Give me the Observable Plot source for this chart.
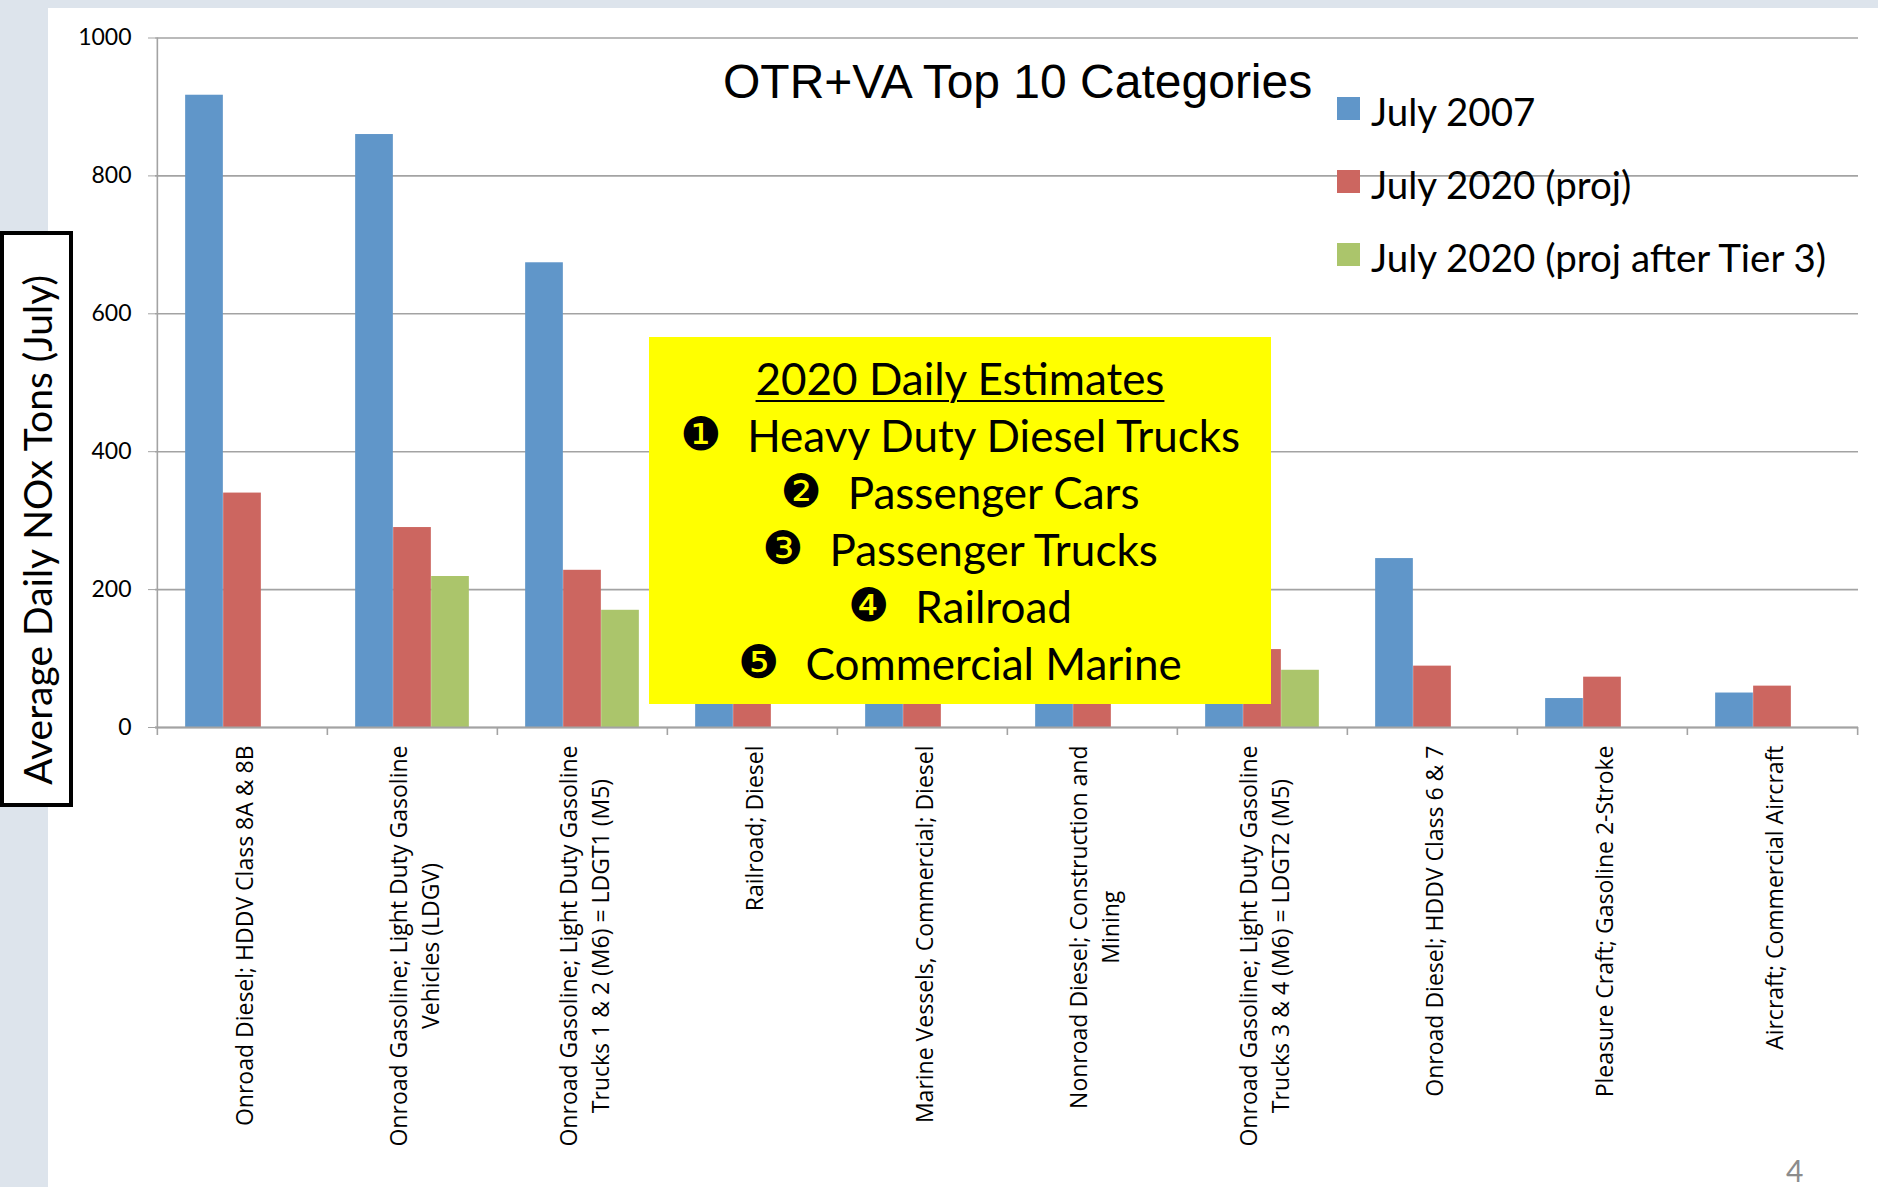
<!DOCTYPE html>
<html><head><meta charset="utf-8">
<script src="https://cdn.jsdelivr.net/npm/d3@7"></script>
<script src="https://cdn.jsdelivr.net/npm/@observablehq/plot@0.6"></script>
<style>
html,body{margin:0;padding:0;}
body{width:1878px;height:1187px;background:#dde4ec;position:relative;overflow:hidden;font-family:Lato,sans-serif;}
#white{position:absolute;left:48px;top:8px;right:0;bottom:0;background:#fff;}
#chart{position:absolute;left:0;top:0;}
#title{position:absolute;left:723px;top:58px;font-family:"Liberation Sans",Arial,sans-serif;font-size:48px;line-height:1;color:#000;white-space:nowrap;}
#legend{position:absolute;left:1337px;top:92px;}
.lg{position:relative;height:73px;font-size:38.5px;line-height:38px;white-space:nowrap;color:#000;}
.lg .sw{position:absolute;left:0;top:5px;width:23px;height:23px;}
.lg .tx{position:absolute;left:34px;top:0;}
#box{position:absolute;left:649px;top:337px;width:622px;height:367px;background:#ffff00;box-sizing:border-box;padding-top:13px;text-align:center;font-size:44px;color:#000;}
#box div{height:57px;line-height:57px;white-space:nowrap;}
#box .hd{text-decoration:underline;text-decoration-thickness:2px;text-underline-offset:5px;}
#box .b{font-family:"DejaVu Sans",sans-serif;font-size:46px;margin-right:26px;position:relative;top:-2px;}
#ylab{position:absolute;left:0;top:231px;width:73px;height:576px;box-sizing:border-box;border:4px solid #000;background:#fff;}
#ylab span{position:absolute;left:50%;top:52%;transform:translate(-50%,-50%) rotate(-90deg);white-space:nowrap;font-size:39px;font-family:Lato,sans-serif;}
#page{position:absolute;left:1786px;top:1155px;font-size:30px;color:#8c8c8c;line-height:1;}
</style></head><body>
<div id="white"></div>
<div id="chart"></div>
<div id="title"></div>
<div id="legend"></div>
<div id="box"></div>
<div id="ylab"><span></span></div>
<div id="page">4</div>
<script>
// ---- data ----
const categories = [
  "Onroad Diesel; HDDV Class 8A & 8B",
  "Onroad Gasoline; Light Duty Gasoline\nVehicles (LDGV)",
  "Onroad Gasoline; Light Duty Gasoline\nTrucks 1 & 2 (M6) = LDGT1 (M5)",
  "Railroad; Diesel",
  "Marine Vessels, Commercial; Diesel",
  "Nonroad Diesel; Construction and\nMining",
  "Onroad Gasoline; Light Duty Gasoline\nTrucks 3 & 4 (M6) = LDGT2 (M5)",
  "Onroad Diesel; HDDV Class 6 & 7",
  "Pleasure Craft; Gasoline 2-Stroke",
  "Aircraft; Commercial Aircraft"
];
const july2007 = [917, 860, 674, 330, 300, 280, 260, 245, 42, 50];
const july2020 = [340, 290, 228, 220, 190, 110, 113, 89, 73, 60];
const july2020Tier3 = [null, 219, 170, null, null, null, 83, null, null, null];
const seriesNames = ["July 2007", "July 2020 (proj)", "July 2020 (proj after Tier 3)"];
const seriesColors = ["#6096c9", "#cc6660", "#abc56b"];
const yTicks = [0, 200, 400, 600, 800, 1000];
const titleText = "OTR+VA Top 10 Categories";
const yLabel = "Average Daily NOx Tons (July)";
const boxHeading = "2020 Daily Estimates";
const bullets = ["\u2776", "\u2777", "\u2778", "\u2779", "\u277A"];
const estimates = ["Heavy Duty Diesel Trucks", "Passenger Cars", "Passenger Trucks", "Railroad", "Commercial Marine"];

// ---- table ----
const seriesValues = [july2007, july2020, july2020Tier3];
const rows = [];
categories.forEach((c, i) => seriesValues.forEach((vals, k) => {
  if (vals[i] != null) rows.push({category: c, k, series: seriesNames[k], value: vals[i]});
}));

// ---- chart ----
const W = 1878, H = 1187, ML = 155, MR = 20, MT = 37.5, MB = 460;
const bw = (W - ML - MR) / categories.length;
const barW = 38;
const side = (bw - 3 * barW) / 2;
const gray = "#a3a3a3";

const chart = Plot.plot({
  width: W, height: H,
  marginLeft: ML, marginRight: MR, marginTop: MT, marginBottom: MB,
  style: {background: "transparent", fontFamily: "Lato, sans-serif", color: "#000"},
  x: {domain: categories, padding: 0, label: null},
  y: {domain: [0, 1000], label: null},
  marks: [
    Plot.gridY(yTicks, {stroke: gray, strokeOpacity: 1, strokeWidth: 1.6}),
    ...seriesNames.map((s, k) => Plot.barY(rows.filter(d => d.k === k), {
      x: "category", y: "value", fill: seriesColors[k],
      insetLeft: side + k * barW, insetRight: bw - side - (k + 1) * barW
    })),
    Plot.ruleY([0], {stroke: gray, strokeWidth: 1.8}),
    Plot.ruleX([categories[0]], {x: d => d, y1: 0, y2: 1000, dx: -bw / 2, stroke: gray, strokeWidth: 1.6}),
    Plot.ruleX(categories, {x: d => d, y1: 0, y2: 0, insetBottom: -8, dx: -bw / 2, stroke: gray, strokeWidth: 1.6}),
    Plot.ruleX([categories[categories.length - 1]], {x: d => d, y1: 0, y2: 0, insetBottom: -8, dx: bw / 2, stroke: gray, strokeWidth: 1.6}),
    Plot.axisY({ticks: yTicks, tickFormat: d => String(d), tickSize: 7, tickPadding: 17, fontSize: 23, stroke: gray, fill: "#000", label: null}),
    Plot.axisX({tickSize: 0, tickPadding: 18, tickRotate: -90, fontSize: 23, fontFamily: "Open Sans", lineHeight: 1.4, fill: "#000", label: null})
  ]
});
document.getElementById("chart").appendChild(chart);

// center multi-line category labels on their longest line (top aligned at axis)
chart.querySelectorAll('g[aria-label="x-axis tick label"] text').forEach(t => {
  const spans = t.querySelectorAll("tspan");
  t.style.fontFamily = "'Open Sans', sans-serif";
  t.setAttribute("text-anchor", "middle");
  if (spans.length) {
    let maxLen = 0;
    spans.forEach(s => maxLen = Math.max(maxLen, s.getComputedTextLength()));
    spans.forEach(s => s.setAttribute("x", -maxLen / 2));
  } else {
    const len = t.getComputedTextLength();
    t.setAttribute("x", -len / 2);
  }
});

// ---- title, legend, annotation ----
document.getElementById("title").textContent = titleText;
document.querySelector("#ylab span").textContent = yLabel;
const legend = document.getElementById("legend");
seriesNames.forEach((s, k) => {
  const row = document.createElement("div");
  row.className = "lg";
  row.innerHTML = `<span class="sw" style="background:${seriesColors[k]}"></span><span class="tx"></span>`;
  row.querySelector(".tx").textContent = s;
  legend.appendChild(row);
});
const box = document.getElementById("box");
const hd = document.createElement("div");
hd.innerHTML = `<span class="hd"></span>`;
hd.querySelector(".hd").textContent = boxHeading;
box.appendChild(hd);
estimates.forEach((e, i) => {
  const d = document.createElement("div");
  d.innerHTML = `<span class="b">${bullets[i]}</span><span class="t"></span>`;
  d.querySelector(".t").textContent = e;
  box.appendChild(d);
});
</script>
</body></html>
